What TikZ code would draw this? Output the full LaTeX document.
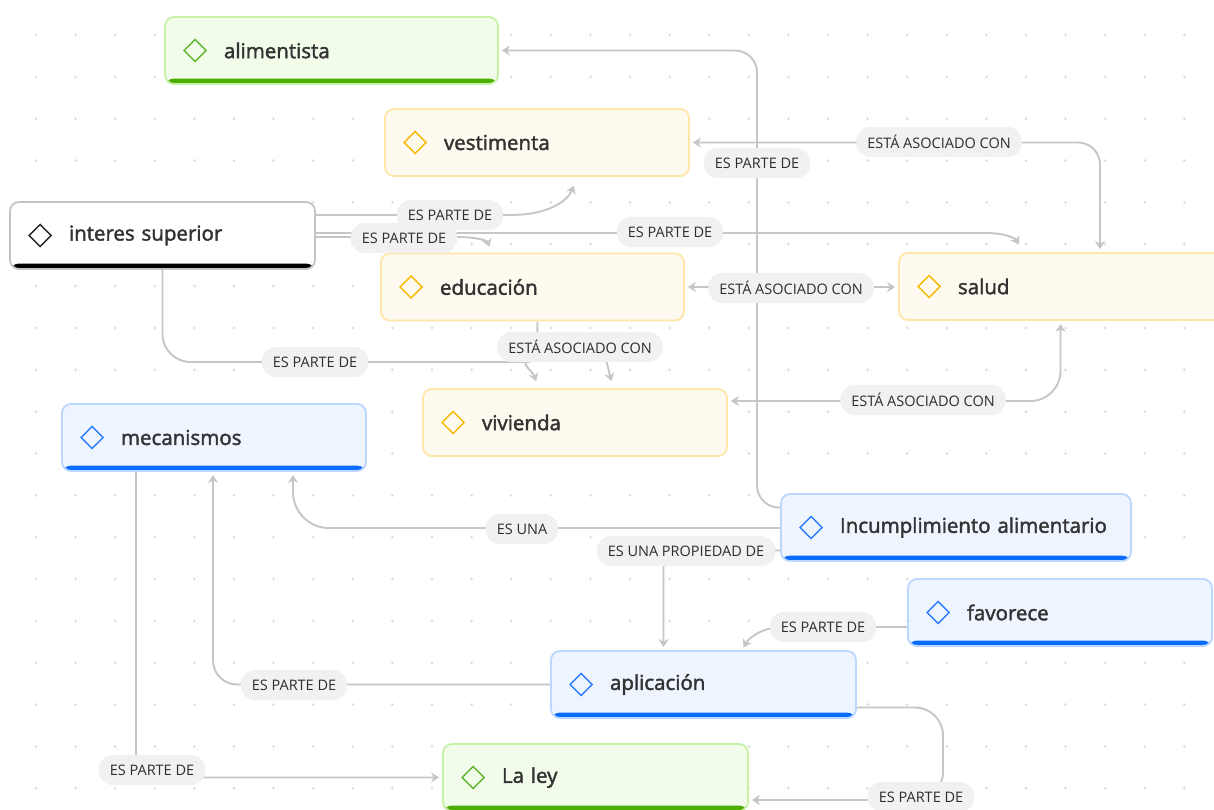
\documentclass[tikz,border=0pt]{standalone}
\usepackage{fontspec}
\setmainfont{Open Sans}
\newfontfamily\nodefont{Open Sans}[FakeBold=2]
\usetikzlibrary{arrows.meta,calc}
\definecolor{linegray}{HTML}{C6C6C6}
\definecolor{lblfill}{HTML}{F1F1F1}
\definecolor{lbltext}{HTML}{2E2E2E}
\definecolor{txt}{HTML}{333333}
\definecolor{dotc}{HTML}{DEDEDE}
\definecolor{gborder}{HTML}{C6F1A6}
\definecolor{gfill}{HTML}{F2FCEA}
\definecolor{gbar}{HTML}{4DAE02}
\definecolor{gicon}{HTML}{5DB72F}
\definecolor{yborder}{HTML}{FFE5A8}
\definecolor{yfill}{HTML}{FFFAF0}
\definecolor{ybar}{HTML}{FFBF00}
\definecolor{yicon}{HTML}{F8B800}
\definecolor{bborder}{HTML}{BCD7FF}
\definecolor{bfill}{HTML}{EFF5FF}
\definecolor{bbar}{HTML}{0A6CFF}
\definecolor{bicon}{HTML}{2B7CFF}
\definecolor{kborder}{HTML}{C4C4C4}
\definecolor{kbar}{HTML}{000000}
\definecolor{kicon}{HTML}{222222}
\pgfdeclarelayer{dots}
\pgfdeclarelayer{lines}
\pgfsetlayers{dots,lines,main}
\tikzset{
  box/.style={rounded corners=9pt, line width=1.8pt, inner xsep=0pt, inner ysep=0pt,
    minimum height=67pt, align=left, text=txt,
    font=\nodefont\fontsize{20.5}{24}\selectfont},
  barfill/.style={path picture={\fill[#1] (path picture bounding box.south west) rectangle ([yshift=5.5pt]path picture bounding box.south east);}},
  gbox/.style={box, draw=gborder, fill=gfill, barfill=gbar},
  ybox/.style={box, draw=yborder, fill=yfill, barfill=ybar},
  bbox/.style={box, draw=bborder, fill=bfill, barfill=bbar},
  kbox/.style={box, draw=kborder, fill=white, barfill=kbar},
  iconline/.style={line width=1.5pt, line join=miter},
  conn/.style={draw=linegray, line width=1.9pt, -{Stealth[length=8pt,width=10pt]}, shorten >=3pt},
  conntwo/.style={draw=linegray, line width=1.9pt, {Stealth[length=8pt,width=10pt]}-{Stealth[length=8pt,width=10pt]}, shorten >=3pt, shorten <=3pt},
  lbl/.style={fill=lblfill, rounded corners=14pt, text=lbltext, inner xsep=11pt, inner ysep=0pt,
    minimum height=30pt, font=\fontsize{14.5}{16}\selectfont},
}
\newcommand{\diaicon}[2]{\draw[iconline, draw=#2] ([xshift=20pt]#1.west) -- ++(11pt,11pt) -- ++(11pt,-11pt) -- ++(-11pt,-11pt) -- cycle;}
\begin{document}
\begin{tikzpicture}[x=1pt,y=-1pt]
\useasboundingbox (0,0) rectangle (1214,809);
\begin{pgfonlayer}{dots}
\fill[white] (0,0) rectangle (1214,809);
\foreach \i in {0,...,29} {\foreach \j in {0,...,18} {\fill[dotc] ({36+39.6*\i},{35+41.85*\j}) circle (1.5);}}
\end{pgfonlayer}

% nodes
\node[gbox, text width=333pt] (alim) at (331.5,50.5) {\hspace*{59pt}alimentista};
\node[ybox, text width=304pt] (vest) at (537,142.5) {\hspace*{59pt}vestimenta};
\node[kbox, text width=305pt] (int) at (162.5,235.5) {\hspace*{59pt}interes superior};
\node[ybox, text width=303pt] (edu) at (532.5,287) {\hspace*{59pt}educación};
\node[ybox, text width=323pt] (salud) at (1060.5,286.5) {\hspace*{59pt}salud};
\node[ybox, text width=304pt] (viv) at (575,422.5) {\hspace*{59pt}vivienda};
\node[bbox, text width=304pt] (mec) at (214,437.5) {\hspace*{59pt}mecanismos};
\node[bbox, text width=350pt] (inc) at (956,527.5) {\hspace*{59pt}Incumplimiento alimentario};
\node[bbox, text width=304pt] (fav) at (1060,612.5) {\hspace*{59pt}favorece};
\node[bbox, text width=305pt] (apl) at (703.5,684.5) {\hspace*{59pt}aplicación};
\node[gbox, text width=305pt] (ley) at (595.5,777.5) {\hspace*{59pt}La ley};

\diaicon{alim}{gicon}
\diaicon{vest}{yicon}
\diaicon{int}{kicon}
\diaicon{edu}{yicon}
\diaicon{salud}{yicon}
\diaicon{viv}{yicon}
\diaicon{mec}{bicon}
\diaicon{inc}{bicon}
\diaicon{fav}{bicon}
\diaicon{apl}{bicon}
\diaicon{ley}{gicon}

% connectors
\begin{pgfonlayer}{lines}
\draw[conn, rounded corners=22pt] ([yshift=20pt]inc.west) -| (757,50.5) -- (alim.east);
\draw[conntwo, rounded corners=22pt] (vest.east) -| ([xshift=39.5pt]salud.north);
\draw[conn] ([yshift=20.5pt]int.east) -- (510,215) .. controls (550,215) and (568,200) .. ([xshift=38pt,yshift=-6pt]vest.south);
\draw[conn] ([yshift=-1.5pt]int.east) -- (455,237) .. controls (475,237) and (487,240) .. ([xshift=-42pt,yshift=3pt]edu.north);
\draw[conn] ([yshift=2.5pt]int.east) -- (985,233) .. controls (1005,233) and (1015,238) .. ([xshift=-40pt,yshift=5pt]salud.north);
\draw[conntwo] (edu.east) -- (edu.east -| salud.west);
\draw[conn, rounded corners=8pt] ([xshift=5pt]edu.south) -- (537,347) -- (605,355) -- ([xshift=37pt,yshift=4pt]viv.north);
\draw[conn] [rounded corners=28pt] (int.south) |- (500,362) [sharp corners] .. controls (520,362) and (533,372) .. ([xshift=-38pt,yshift=4pt]viv.north);
\draw[conntwo, rounded corners=30pt] ([yshift=21.5pt]viv.east) -| (salud.south);
\draw[conn, rounded corners=36pt] ([yshift=-0.5pt]inc.west) -| ([xshift=79pt]mec.south);
\draw[conn, rounded corners=14pt] ([yshift=-23pt]inc.west) -| ([xshift=-40pt]apl.north);
\draw[conn] ([yshift=-14.5pt]fav.west) -- (782,627) .. controls (765,627) and (750,636) .. ([xshift=38.5pt]apl.north);
\draw[conn, rounded corners=24pt] (apl.west) -| ([xshift=-1pt]mec.south);
\draw[conn, rounded corners=24pt] ([xshift=-78pt]mec.south) |- (ley.west);
\draw[conn, rounded corners=28pt] ([yshift=-23pt]apl.east) -| (943,800) -- ([yshift=-22.5pt]ley.east);
\end{pgfonlayer}

% labels
\node[lbl] (l1) at (757,163) {ES PARTE DE};
\node[lbl] (l2) at (939,142) {ESTÁ ASOCIADO CON};
\node[lbl] (l3) at (450,215) {ES PARTE DE};
\node[lbl] (l4) at (404,238) {ES PARTE DE};
\node[lbl] (l5) at (670,232) {ES PARTE DE};
\node[lbl] (l6) at (791,288) {ESTÁ ASOCIADO CON};
\node[lbl] (l7) at (580,347) {ESTÁ ASOCIADO CON};
\node[lbl] (l8) at (315,362) {ES PARTE DE};
\node[lbl] (l9) at (923,400) {ESTÁ ASOCIADO CON};
\node[lbl] (l10) at (522,529) {ES UNA};
\node[lbl] (l11) at (686,551) {ES UNA PROPIEDAD DE};
\node[lbl] (l12) at (823,627) {ES PARTE DE};
\node[lbl] (l13) at (294,685) {ES PARTE DE};
\node[lbl] (l14) at (152,770) {ES PARTE DE};
\node[lbl] (l15) at (921,797) {ES PARTE DE};
\end{tikzpicture}
\end{document}
